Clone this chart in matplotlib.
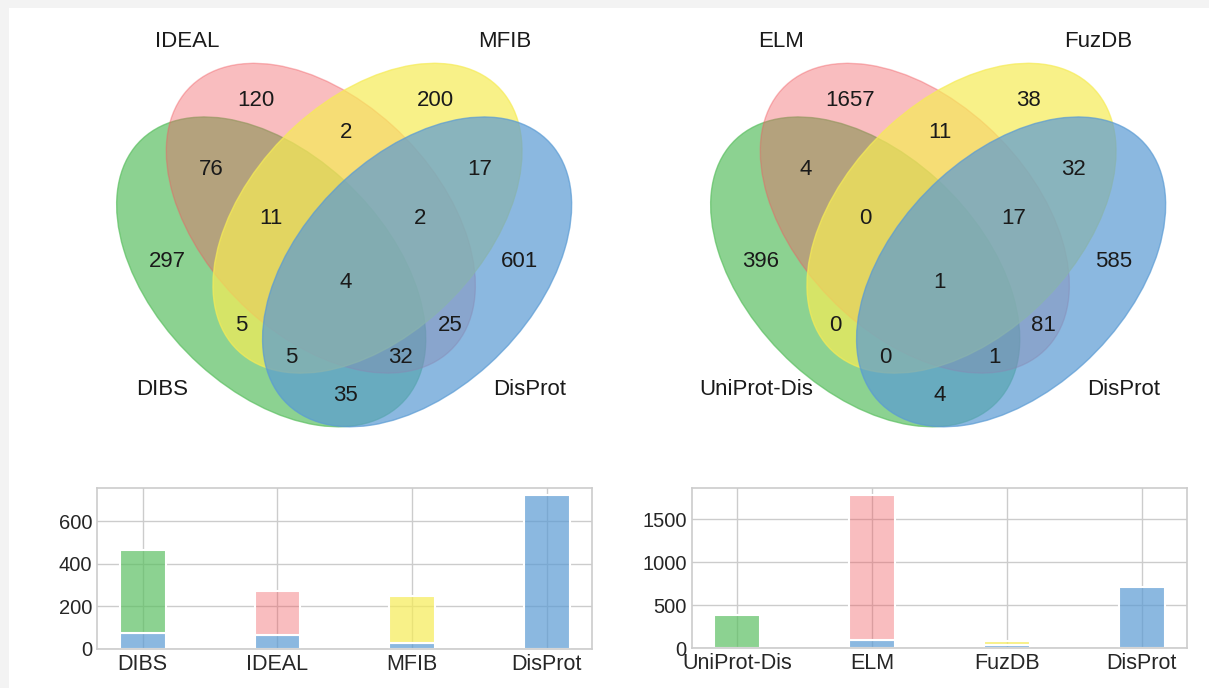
import matplotlib
matplotlib.use("Agg")
import matplotlib.pyplot as plt
from matplotlib.patches import Ellipse, Rectangle

plt.rcParams['font.family'] = ['Liberation Sans', 'DejaVu Sans']

# ---------------- data ----------------
# region codes: (set0, set1, set2, set3) membership
region_codes = ['1000', '0100', '0010', '0001', '1100', '0110', '0011', '1110',
                '0111', '1111', '1010', '0101', '1011', '1101', '1001']

left_names = ['DIBS', 'IDEAL', 'MFIB', 'DisProt']
left_counts = [297, 120, 200, 601, 76, 2, 17, 11, 2, 4, 5, 25, 5, 32, 35]

right_names = ['UniProt-Dis', 'ELM', 'FuzDB', 'DisProt']
right_counts = [396, 1657, 38, 585, 4, 11, 32, 0, 17, 1, 0, 81, 0, 1, 4]

# bar charts: total per set and part shared with DisProt
left_bar_labels = ['DIBS', 'IDEAL', 'MFIB', 'DisProt']
left_bar_total = [465, 272, 246, 721]
left_bar_shared = [76, 63, 28, 0]

right_bar_labels = ['UniProt-Dis', 'ELM', 'FuzDB', 'DisProt']
right_bar_total = [392, 1780, 88, 708]
right_bar_shared = [6, 92, 42, 0]

# ---------------- style ----------------
venn_colors = [(92/255, 192/255, 98/255, 0.7),
               (241/255, 90/255, 96/255, 0.4),
               (246/255, 236/255, 86/255, 0.7),
               (90/255, 155/255, 212/255, 0.7)]

ellipses = [(0.350, 0.400, 140.0), (0.450, 0.500, 140.0),
            (0.544, 0.500, 40.0), (0.644, 0.400, 40.0)]

label_pos = {'0001': (0.85, 0.42), '0010': (0.68, 0.72), '0011': (0.77, 0.59),
             '0100': (0.32, 0.72), '0101': (0.71, 0.30), '0110': (0.50, 0.66),
             '0111': (0.65, 0.50), '1000': (0.14, 0.42), '1001': (0.50, 0.17),
             '1010': (0.29, 0.30), '1011': (0.39, 0.24), '1100': (0.23, 0.59),
             '1101': (0.61, 0.24), '1110': (0.35, 0.50), '1111': (0.50, 0.38)}
name_pos = [(0.13, 0.18), (0.18, 0.83), (0.82, 0.83), (0.87, 0.18)]

W, H = 1209, 688
fig = plt.figure(figsize=(W / 100, H / 100), dpi=100, facecolor='white')
# light grey page border (left and top strips)
fig.patches.append(Rectangle((0, 0), 9 / W, 1, transform=fig.transFigure,
                             facecolor='#f3f3f3', edgecolor='none'))
fig.patches.append(Rectangle((0, 1 - 8 / H), 1, 8 / H, transform=fig.transFigure,
                             facecolor='#f3f3f3', edgecolor='none'))


def px_axes(x0, y_top, w, h):
    return fig.add_axes([x0 / W, 1 - (y_top + h) / H, w / W, h / H])


def draw_venn(ax, names, counts):
    ax.set_xlim(0, 1)
    ax.set_ylim(0, 486.6 / 536.8)
    ax.set_axis_off()
    for (cx, cy, ang), col in zip(ellipses, venn_colors):
        ax.add_patch(Ellipse((cx, cy), 0.72, 0.45, angle=ang,
                             facecolor=col, edgecolor=col, linewidth=1))
    for code, val in zip(region_codes, counts):
        x, y = label_pos[code]
        ax.text(x, y, str(val), ha='center', va='center', fontsize=16,
                color='#1a1a1a')
    for (x, y), nm in zip(name_pos, names):
        ax.text(x, y, nm, ha='center', va='center', fontsize=16,
                color='#1a1a1a')


def draw_bars(ax, labels, total, shared, top_colors):
    xs = range(len(labels))
    ax.set_axisbelow(True)
    ax.grid(True, color='#cccccc', linewidth=1.0)
    blue = venn_colors[3]
    ax.bar(xs, shared, width=0.34, color=blue, edgecolor='white', linewidth=1.5)
    tops = [t - s for t, s in zip(total, shared)]
    ax.bar(xs, tops, bottom=shared, width=0.34, color=top_colors,
           edgecolor='white', linewidth=1.5)
    ax.set_xticks(list(xs))
    ax.set_xticklabels(labels)
    for sp in ax.spines.values():
        sp.set_color('#cccccc')
        sp.set_linewidth(1.2)
    ax.tick_params(length=0, colors='#262626', pad=3.5)
    ax.tick_params(axis='x', labelsize=15.5)
    ax.tick_params(axis='y', labelsize=14.5)
    ax.set_facecolor('white')


axv1 = px_axes(97.5, 0, 496.3, 486.6)
draw_venn(axv1, left_names, left_counts)
axv2 = px_axes(691.5, 0, 496.3, 486.6)
draw_venn(axv2, right_names, right_counts)

axb1 = px_axes(97.3, 487.7, 495.0, 161.0)
draw_bars(axb1, left_bar_labels, left_bar_total, left_bar_shared,
          [venn_colors[0], venn_colors[1], venn_colors[2], venn_colors[3]])
axb1.set_yticks([0, 200, 400, 600])

axb2 = px_axes(691.7, 487.7, 495.6, 160.6)
draw_bars(axb2, right_bar_labels, right_bar_total, right_bar_shared,
          [venn_colors[0], venn_colors[1], venn_colors[2], venn_colors[3]])
axb2.set_yticks([0, 500, 1000, 1500])

fig.savefig('out.png', dpi=100, facecolor=fig.get_facecolor())
